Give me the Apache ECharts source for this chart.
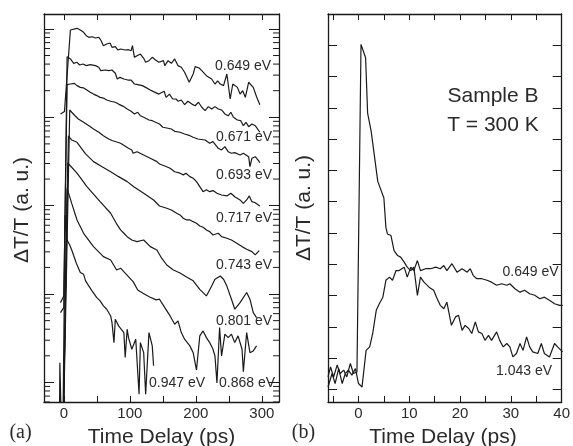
<!DOCTYPE html>
<html><head><meta charset="utf-8">
<script src="https://cdn.jsdelivr.net/npm/echarts@6/dist/echarts.min.js"></script>
<style>html,body{margin:0;padding:0;background:#fff}#c{width:573px;height:446px}</style>
</head><body><div id="c"></div>
<script>
// ---------- Panel (a): log-scale decays, time delay in ps ----------
const t_a0649 = [-5,1,10,20,25,30,34,38,43,48,53,56,60,63,65,70,73,78,82,86,93,98,102,104,107,111,116,121,124,129,134,139,144,147,151,153,158,163,168,173,178,183,190,196,199,205,209,216,224,229,233,237,242,247,252,256,259,263,267,271,275,280,283,287,292,297];
const v_a0649 = [1.09,1.16,9.72,10.16,9.72,9.15,8.38,8.04,8.16,7.89,8.04,7.49,6.46,6.19,6.75,6.93,6.19,6.29,5.77,5.93,5.77,5.82,5.67,6.46,4.77,4.98,5.20,4.65,4.19,4.37,4.77,4.45,4.19,4.01,4.37,3.84,4.37,4.08,4.57,3.84,3.68,3.23,2.49,3.09,3.74,3.61,3.37,2.96,2.71,2.38,2.59,2.38,2.28,3.09,1.61,2.38,2.49,2.18,1.83,2.00,1.68,2.49,2.49,2.18,1.71,1.39];

const t_a0671 = [-5,0,5,10,15,20,24,29,34,40,48,53,56,63,68,73,78,81,85,91,97,102,107,112,119,124,131,136,144,152,155,160,165,170,173,178,183,188,194,199,204,209,214,219,224,229,234,239,244,249,253,257,263,268,272,276,280,285,290,297];
const v_a0671 = [0.00616,0.00702,4.85,4.57,4.08,4.19,3.91,4.01,3.84,3.94,3.84,3.68,3.37,3.43,3.37,3.43,3.15,2.71,2.83,2.71,2.64,2.64,2.38,2.34,2.28,2.18,2.04,1.95,1.83,1.97,1.68,1.83,1.61,1.61,1.52,1.57,1.39,1.52,1.41,1.35,1.48,1.30,1.19,1.32,1.24,1.32,1.24,1.21,1.09,1.04,1.14,1.00,0.932,0.915,0.803,0.878,0.783,0.840,0.803,0.677];

const t_a0693 = [-5,0,5,10,16,20,25,30,35,40,45,50,55,60,65,71,78,83,91,96,102,107,112,116,121,129,134,139,145,150,156,163,168,176,183,191,196,203,214,221,226,234,239,244,249,254,259,267,272,276,280,282,285,290,295,297];
const v_a0693 = [0.00799,0.00952,2.34,2.38,2.42,2.28,2.18,2.15,2.04,1.92,1.83,1.76,1.68,1.65,1.57,1.52,1.48,1.41,1.32,1.24,1.17,1.09,1.14,1.04,1.00,0.932,0.915,0.878,0.840,0.771,0.757,0.737,0.694,0.677,0.647,0.619,0.594,0.568,0.553,0.508,0.530,0.446,0.427,0.465,0.408,0.392,0.398,0.375,0.392,0.375,0.358,0.276,0.344,0.358,0.323,0.306];

const t_a0717 = [-2,9,12,17,22,30,38,45,53,60,68,73,86,98,103,105,111,121,131,141,145,153,161,168,176,181,185,191,196,201,206,211,216,221,226,232,239,247,253,259,267,272,277,281,285,290,297];
const v_a0717 = [0.0001,1.21,1.14,1.04,0.957,0.878,0.803,0.737,0.677,0.619,0.568,0.546,0.508,0.446,0.427,0.392,0.408,0.375,0.344,0.315,0.296,0.281,0.265,0.242,0.233,0.223,0.233,0.213,0.204,0.187,0.164,0.144,0.151,0.144,0.148,0.138,0.132,0.129,0.138,0.126,0.116,0.106,0.116,0.129,0.111,0.108,0.0992];

const t_a0743 = [-2,7,12,20,33,45,58,71,83,96,106,121,136,145,156,163,171,176,181,186,191,196,201,206,211,216,221,226,234,239,247,254,262,270,277,285,290,296];
const v_a0743 = [0.0001,0.615,0.553,0.521,0.385,0.315,0.276,0.242,0.213,0.187,0.164,0.138,0.116,0.0992,0.0934,0.0894,0.0820,0.0785,0.0720,0.0689,0.0689,0.0659,0.0632,0.0589,0.0570,0.0531,0.0508,0.0466,0.0487,0.0446,0.0428,0.0409,0.0376,0.0344,0.0321,0.0302,0.0277,0.0310];

const t_a0801 = [-2,6,20,35,55,71,81,86,91,96,103,111,121,131,141,148,156,166,176,186,196,206,216,224,229,237,242,247,254,259,267,277,282,287,292];
const v_a0801 = [0.0001,0.304,0.233,0.164,0.111,0.0820,0.0605,0.0531,0.0487,0.0446,0.0409,0.0392,0.0409,0.0344,0.0315,0.0256,0.0213,0.0187,0.0173,0.0156,0.0141,0.0113,0.00952,0.0123,0.0147,0.0160,0.0147,0.0123,0.00874,0.00673,0.00799,0.0104,0.00874,0.00616,0.00541];

const t_a0868 = [-2,5,12,20,30,45,60,71,80,86,94,105,112,120,130,140,145,153,161,168,173,178,183,191,196,201,206,211,216,221,226,229,232,236,239,244,249,254,259,264,270,272,277,282,287,292];
const v_a0868 = [0.0001,0.157,0.106,0.0689,0.0487,0.0344,0.0265,0.0243,0.0187,0.0196,0.0169,0.0138,0.0111,0.0102,0.00927,0.00858,0.00874,0.00702,0.00565,0.00455,0.00496,0.00366,0.00308,0.00259,0.00217,0.00138,0.00336,0.00382,0.00321,0.00282,0.00237,0.00199,0.000987,0.00417,0.00199,0.00351,0.00321,0.00351,0.00282,0.00336,0.00237,0.00132,0.00366,0.00217,0.00227,0.00259];

const t_a0947 = [-7,-6,-3,-2,2,5,9,12,19,25,30,33,38,43,45,50,55,60,65,71,73,76,78,83,86,91,93,96,98,103,109,114,116,121,124,129,131,134,136];
const v_a0947 = [0.0001,0.00167,0.00167,0.0001,0.0783,0.0409,0.0359,0.0315,0.0223,0.0175,0.0167,0.0141,0.0123,0.0108,0.0113,0.00911,0.00835,0.00733,0.00673,0.00565,0.00475,0.00282,0.00519,0.00436,0.00455,0.00366,0.00191,0.00400,0.00321,0.00237,0.00308,0.000735,0.00282,0.00217,0.000735,0.00366,0.00382,0.00259,0.00154];

const labels_a = ['0.649 eV','0.671 eV','0.693 eV','0.717 eV','0.743 eV','0.801 eV','0.868 eV','0.947 eV'];

// ---------- Panel (b): linear scale, short delays ----------
const t_b1043 = [-6.0,-5.5,-4.9,-4.2,-3.6,-2.9,-2.3,-1.6,-1.0,-0.3,0.0,0.5,1.4,1.8,2.5,3.8,5.0,5.4,5.7,6.4,7.0,7.7,8.3,9.0,9.6,10.3,10.9,11.6,12.2,12.9,13.9,14.8,15.5,16.1,16.8,17.4,18.3,19.1,19.7,20.4,21.0,21.7,22.3,23.0,23.6,24.3,24.9,25.6,26.2,27.2,27.8,28.5,29.2,29.8,30.4,31.1,31.8,32.4,33.1,33.7,34.3,35.3,36.0,36.6,37.6,38.6,39.2,40.2];
const v_b1043 = [0.40,0.72,0.40,0.78,0.51,0.62,0.40,0.83,0.51,0.56,0.51,11.03,10.6,8.83,8.25,6.65,6.12,5.18,4.97,4.92,4.44,4.28,4.23,4.07,3.91,3.80,3.91,3.01,3.59,3.43,3.27,3.17,2.90,2.69,2.58,2.79,2.05,2.32,2.37,1.89,2.05,1.95,1.79,2.16,1.84,1.79,1.57,1.73,1.57,1.84,1.57,1.36,1.47,1.36,1.04,1.15,1.47,1.25,1.68,1.36,1.20,1.15,1.47,1.15,1.04,1.47,1.36,1.20];

const t_b0649 = [-6.0,-5.2,-4.6,-3.9,-3.2,-2.6,-2.0,-1.3,-0.6,0.0,0.7,1.5,2.2,2.8,3.5,4.1,4.8,5.4,6.1,6.7,7.4,8.0,9.0,9.6,10.3,10.9,11.6,12.2,13.2,14.2,15.2,16.1,16.8,17.4,18.4,19.4,20.4,21.4,22.0,22.6,23.3,24.3,25.3,26.2,27.2,28.2,29.2,29.8,30.8,31.8,32.7,33.7,34.7,35.7,36.6,37.6,38.6,39.6,40.2];
const v_b0649 = [0.08,0.51,0.19,0.67,0.19,0.51,0.62,0.46,0.67,0.19,0.08,1.25,1.36,1.79,2.53,2.74,2.95,3.49,3.59,3.49,3.80,3.80,3.91,3.59,3.91,3.80,4.12,3.80,3.86,3.86,3.91,3.86,3.96,3.80,4.02,3.75,3.86,3.75,3.86,3.64,3.54,3.54,3.49,3.43,3.33,3.38,3.33,3.38,3.22,3.11,3.17,3.06,3.01,2.90,2.95,2.85,2.74,2.69,2.69];

const labels_b = ['0.649 eV','1.043 eV'];

// axis settings
const xTicksA = [0, 100, 200, 300];
const xTicksB = [0, 10, 20, 30, 40];
const logDecades = [0.0001, 0.001, 0.01, 0.1, 1, 10];
const logMinorMultipliers = [2, 3, 4, 5, 6, 7, 8, 9];

const A_XMIN = -30, A_XMAX = 326, A_YMIN = 6.0e-4, A_YMAX = 14.75;
const B_XMIN = -6, B_XMAX = 40, B_YMIN = -0.4, B_YMAX = 12;

const INK = '#1a1a1a';
const TXT = '#2a2a2a';
const SANS = 'Liberation Sans, Arial, sans-serif';
const SERIF = 'Liberation Serif, Times New Roman, serif';

const zip = (t, v) => t.map((x, i) => [x, v[i]]);

const minorVals = [];
logDecades.forEach(d => logMinorMultipliers.forEach(m => {
  const v = d * m;
  if (v > A_YMIN && v < A_YMAX) minorVals.push([0, v]);
}));

function xAx(grid, pos, min, max, step, ticks, showLabels) {
  return {
    type: 'value', gridIndex: grid, position: pos, min, max,
    minInterval: step, maxInterval: step, splitNumber: 8,
    axisLine: { show: true, onZero: false, lineStyle: { color: INK, width: 1.3 } },
    axisTick: { show: true, inside: true, length: 6, lineStyle: { color: INK, width: 1 } },
    splitLine: { show: false },
    axisLabel: {
      show: showLabels, margin: 4, color: TXT, fontFamily: SANS, fontSize: 15,
      formatter: v => (ticks.indexOf(v) >= 0 ? String(v) : '')
    }
  };
}
function yLog(pos) {
  return {
    type: 'log', logBase: 10, gridIndex: 0, position: pos, min: A_YMIN, max: A_YMAX,
    axisLine: { show: true, onZero: false, lineStyle: { color: INK, width: 1.3 } },
    axisTick: { show: true, inside: true, length: 10, lineStyle: { color: INK, width: 1 } },
    splitLine: { show: false }, minorTick: { show: false },
    axisLabel: { show: false }
  };
}
function yLin(pos) {
  return {
    type: 'value', gridIndex: 1, position: pos, min: B_YMIN, max: B_YMAX,
    minInterval: 1, maxInterval: 1, splitNumber: 12,
    axisLine: { show: true, onZero: false, lineStyle: { color: INK, width: 1.3 } },
    axisTick: { show: true, inside: true, length: 9, lineStyle: { color: INK, width: 1 } },
    splitLine: { show: false },
    axisLabel: { show: false }
  };
}

function lineSeries(t, v, xi, yi) {
  return {
    type: 'line', xAxisIndex: xi, yAxisIndex: yi, data: zip(t, v),
    showSymbol: false, symbol: 'none', smooth: false, clip: true,
    lineStyle: { color: INK, width: 1.2 }, emphasis: { disabled: true }, silent: true
  };
}

function label(text, x, y, size) {
  return {
    type: 'text', x, y, silent: true,
    style: { text, fill: TXT, font: `${size}px ${SANS}`, align: 'left', verticalAlign: 'middle' }
  };
}
function ctext(text, x, y, size, family, rot) {
  return {
    type: 'text', x, y, rotation: rot || 0, silent: true,
    style: { text, fill: TXT, font: `${size}px ${family}`, align: 'center', verticalAlign: 'middle' }
  };
}

const option = {
  animation: false,
  backgroundColor: '#fff',
  grid: [
    { left: 44, top: 14, width: 235, height: 388 },
    { left: 328, top: 14, width: 236, height: 388 }
  ],
  xAxis: [
    xAx(0, 'bottom', A_XMIN, A_XMAX, 50, xTicksA, true),
    xAx(0, 'top', A_XMIN, A_XMAX, 50, xTicksA, false),
    xAx(1, 'bottom', B_XMIN, B_XMAX, 5, xTicksB, true),
    xAx(1, 'top', B_XMIN, B_XMAX, 5, xTicksB, false)
  ],
  yAxis: [yLog('left'), yLog('right'), yLin('left'), yLin('right')],
  series: [
    lineSeries(t_a0649, v_a0649, 0, 0),
    lineSeries(t_a0671, v_a0671, 0, 0),
    lineSeries(t_a0693, v_a0693, 0, 0),
    lineSeries(t_a0717, v_a0717, 0, 0),
    lineSeries(t_a0743, v_a0743, 0, 0),
    lineSeries(t_a0801, v_a0801, 0, 0),
    lineSeries(t_a0868, v_a0868, 0, 0),
    lineSeries(t_a0947, v_a0947, 0, 0),
    lineSeries(t_b1043, v_b1043, 2, 2),
    lineSeries(t_b0649, v_b0649, 2, 2),
    {
      type: 'custom', xAxisIndex: 0, yAxisIndex: 0, data: minorVals, silent: true, clip: false,
      encode: { x: 0, y: 1 },
      renderItem: (params, api) => {
        const cs = params.coordSys;
        const y = api.coord([0, api.value(1)])[1];
        if (y < cs.y || y > cs.y + cs.height) return null;
        const st = { stroke: INK, lineWidth: 1 };
        return { type: 'group', children: [
          { type: 'line', shape: { x1: cs.x, y1: y, x2: cs.x + 6, y2: y }, style: st },
          { type: 'line', shape: { x1: cs.x + cs.width - 6, y1: y, x2: cs.x + cs.width, y2: y }, style: st }
        ] };
      }
    }
  ],
  graphic: [
    label(labels_a[0], 215, 65.7, 14),
    label(labels_a[1], 216, 137.5, 14),
    label(labels_a[2], 216, 175, 14),
    label(labels_a[3], 216, 218, 14),
    label(labels_a[4], 216, 265, 14),
    label(labels_a[5], 216, 321, 14),
    label(labels_a[6], 219, 382.7, 14),
    label(labels_a[7], 149, 383.5, 14),
    label(labels_b[0], 502.5, 272.3, 14),
    label(labels_b[1], 496, 371, 14),
    ctext('Sample B', 493, 96.5, 21, SANS),
    ctext('T = 300 K', 493, 124.8, 21, SANS),
    ctext('Time Delay (ps)', 161.5, 437, 21, SANS),
    ctext('Time Delay (ps)', 443, 437, 21, SANS),
    ctext('ΔT/T (a. u.)', 22.5, 210, 21, SANS, Math.PI / 2),
    ctext('ΔT/T (a. u.)', 304, 208, 21, SANS, Math.PI / 2),
    ctext('(a)', 20.5, 433, 20, SERIF),
    ctext('(b)', 303.5, 433, 20, SERIF)
  ]
};

const chart = echarts.init(document.getElementById('c'), null, { renderer: 'canvas' });
chart.setOption(option);
</script></body></html>
